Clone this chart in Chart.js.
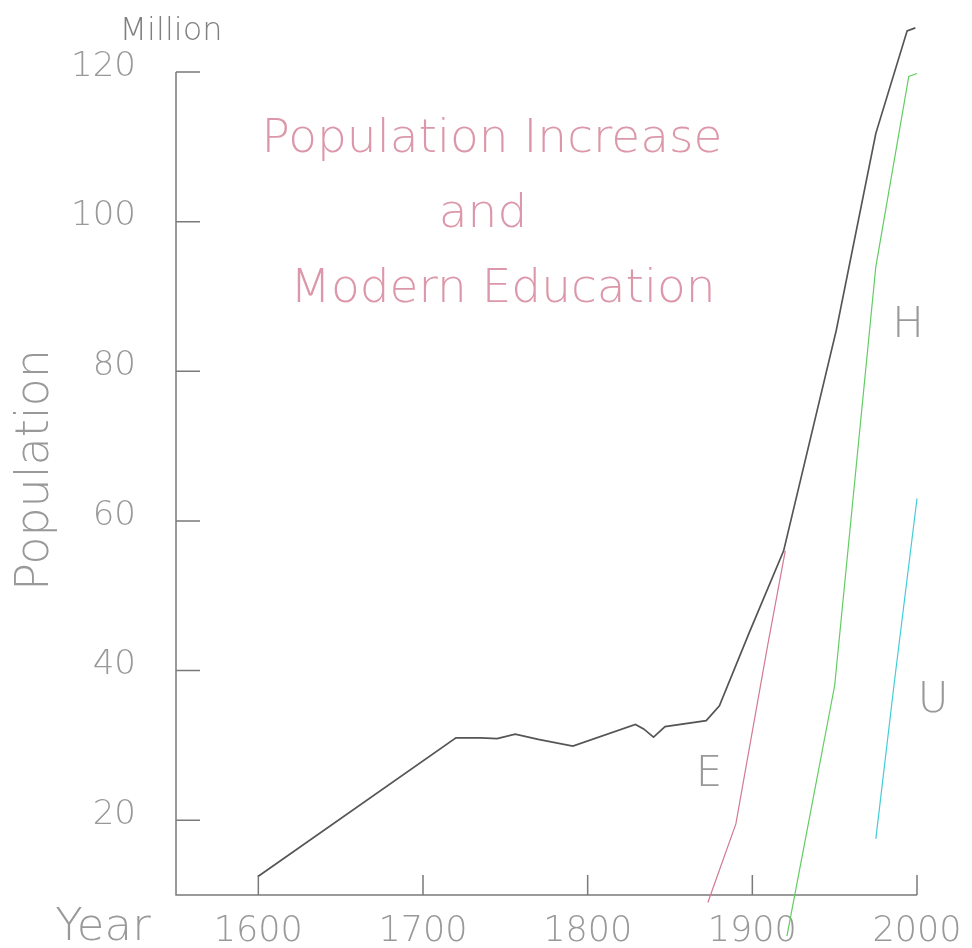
<!DOCTYPE html>
<html>
<head>
<meta charset="utf-8">
<script src="https://cdn.jsdelivr.net/npm/chart.js@4"></script>
<style>
  body { margin: 0; background: #fff; }
</style>
</head>
<body>
<canvas id="chart" width="972" height="948"></canvas>
<script>
// population (black)
const popYears = [1600, 1720, 1735, 1745, 1756, 1770, 1791, 1829, 1834, 1840, 1847, 1872, 1880, 1898, 1919, 1951, 1975, 1994, 1999];
const popValues = [12.5, 31, 31, 30.9, 31.5, 30.8, 29.9, 32.8, 32.2, 31.1, 32.5, 33.3, 35.3, 45, 56, 85.5, 111.8, 125.5, 125.9];
// E line
const eduYears = [1873, 1890, 1909, 1920];
const eduValues = [9, 19.5, 43, 56];
// H line
const highYears = [1921, 1950, 1975, 1995, 2000];
const highValues = [4.5, 38, 94, 119.4, 119.8];
// U line
const uniYears = [1975, 1986, 2000];
const uniValues = [17.5, 38, 63];

const xTicks = [1600, 1700, 1800, 1900, 2000];
const yTicks = [20, 40, 60, 80, 100, 120];

const FONT = '"DejaVu Sans", sans-serif';

function pts(xs, ys) {
  return xs.map((x, i) => ({ x: x, y: ys[i] }));
}

const extras = {
  id: 'extras',
  beforeDatasetsDraw(chart) {
    const ctx = chart.ctx;
    const xs = chart.scales.x, ys = chart.scales.y;
    const x0 = xs.getPixelForValue(1550), x1 = xs.getPixelForValue(2000);
    const y0 = ys.getPixelForValue(10), y1 = ys.getPixelForValue(120);
    ctx.save();
    ctx.strokeStyle = '#7a7a7a';
    ctx.lineWidth = 1.5;
    ctx.beginPath();
    ctx.moveTo(x0, y1); ctx.lineTo(x0, y0); ctx.lineTo(x1, y0);
    yTicks.forEach(v => {
      const p = ys.getPixelForValue(v);
      ctx.moveTo(x0, p); ctx.lineTo(x0 + 24, p);
    });
    xTicks.forEach(v => {
      const p = xs.getPixelForValue(v);
      ctx.moveTo(p, y0); ctx.lineTo(p, y0 - 20);
    });
    ctx.stroke();
    ctx.restore();
  },
  afterDraw(chart) {
    const ctx = chart.ctx;
    ctx.save();
    ctx.textAlign = 'center';
    ctx.textBaseline = 'alphabetic';
    // title
    ctx.fillStyle = '#dc98aa';
    ctx.font = '200 47px ' + FONT;
    ctx.fillText('Population Increase', 492, 152);
    ctx.fillText('and', 483, 227);
    ctx.fillText('Modern Education', 503, 302);
    // series labels
    ctx.fillStyle = '#999';
    ctx.font = '200 42px ' + FONT;
    ctx.fillText('E', 709, 786);
    ctx.fillText('H', 908, 337);
    ctx.fillText('U', 933, 712);
    // axis words
    ctx.fillStyle = '#808080';
    ctx.font = '200 32px ' + FONT;
    ctx.fillText('Million', 171, 40);
    ctx.fillStyle = '#999';
    ctx.font = '200 45px ' + FONT;
    ctx.fillText('Year', 103, 940);
    ctx.translate(48, 470);
    ctx.rotate(-Math.PI / 2);
    ctx.font = '200 46px ' + FONT;
    ctx.fillText('Population', 0, 0);
    ctx.restore();
  }
};

new Chart(document.getElementById('chart'), {
  type: 'line',
  data: {
    datasets: [
      { data: pts(popYears, popValues), borderColor: '#555', borderWidth: 1.7 },
      { data: pts(eduYears, eduValues), borderColor: '#d27a90', borderWidth: 1.2 },
      { data: pts(highYears, highValues), borderColor: '#62cc62', borderWidth: 1.2 },
      { data: pts(uniYears, uniValues), borderColor: '#44ccd8', borderWidth: 1.2 }
    ]
  },
  options: {
    responsive: false,
    animation: false,
    layout: { padding: { top: 72, right: 55, bottom: 0, left: 0 } },
    elements: { point: { radius: 0 }, line: { tension: 0 } },
    datasets: { line: { clip: false } },
    plugins: { legend: { display: false }, tooltip: { enabled: false } },
    scales: {
      x: {
        type: 'linear',
        min: 1550,
        max: 2000,
        grid: { display: false },
        border: { display: false },
        afterBuildTicks: s => { s.ticks = xTicks.map(v => ({ value: v })); },
        afterFit: s => { s.height = 53; },
        ticks: {
          color: '#999',
          padding: 8,
          maxRotation: 0,
          font: { family: FONT, size: 35, weight: 200 },
          callback: v => String(v)
        }
      },
      y: {
        min: 10,
        max: 120,
        grid: { display: false },
        border: { display: false },
        afterBuildTicks: s => { s.ticks = yTicks.map(v => ({ value: v })); },
        afterFit: s => { s.width = 176; },
        ticks: {
          color: '#999',
          padding: 32,
          labelOffset: -5,
          font: { family: FONT, size: 34, weight: 200 },
          callback: v => String(v)
        }
      }
    }
  },
  plugins: [extras]
});
</script>
</body>
</html>
